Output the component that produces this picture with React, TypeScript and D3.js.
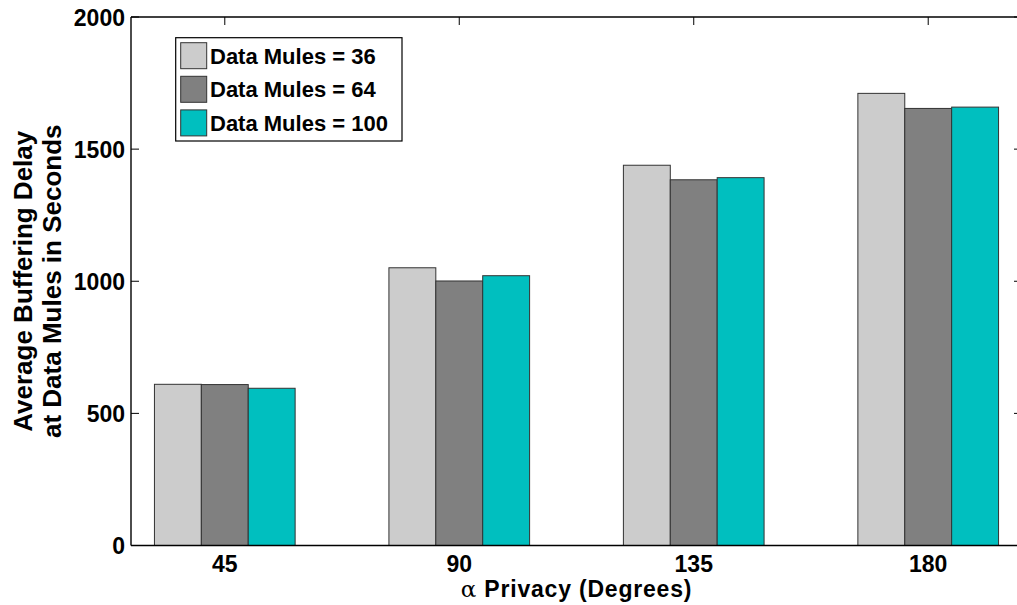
import React from "react";
import * as d3 from "d3";

const categories = ["45", "90", "135", "180"];
const seriesNames = ["Data Mules = 36", "Data Mules = 64", "Data Mules = 100"];
const mules36 = [610, 1051, 1439, 1711];
const mules64 = [609, 1001, 1384, 1654];
const mules100 = [595, 1021, 1392, 1659];
const yTicks = [0, 500, 1000, 1500, 2000];
const colors = ["#cccccc", "#808080", "#00bfbf"];

const W = 1017;
const H = 605;
const M = { left: 131, right: 1022, top: 17, bottom: 545.5 };
const FONT = "'Liberation Sans', Arial, Helvetica, sans-serif";

export default function App() {
  const series = [mules36, mules64, mules100];
  const x = d3.scaleLinear().domain([0.6, 4.4]).range([M.left, M.right]);
  const y = d3.scaleLinear().domain([0, 2000]).range([M.bottom, M.top]);
  const groupW = (x(2) - x(1)) * 0.6;
  const inner = d3
    .scaleBand<number>()
    .domain([0, 1, 2])
    .range([-groupW / 2, groupW / 2])
    .padding(0);

  const tickLen = 8;

  return (
    <svg
      width={W}
      height={H}
      style={{ position: "absolute", left: 0, top: 0, background: "#fff" }}
      fontFamily={FONT}
      fontWeight="bold"
    >
      <rect x={0} y={0} width={W} height={H} fill="#fff" />
      {categories.map((c, i) => (
        <line key={"bt" + c} x1={x(i + 1)} x2={x(i + 1)} y1={M.bottom} y2={M.bottom - tickLen} stroke="#000" strokeWidth={1} />
      ))}
      {series.map((vals, s) =>
        vals.map((v, i) => (
          <rect
            key={`b${s}-${i}`}
            x={x(i + 1) + (inner(s) as number)}
            y={y(v)}
            width={inner.bandwidth()}
            height={y(0) - y(v)}
            fill={colors[s]}
            stroke="#333"
            strokeWidth={1}
          />
        ))
      )}
      <line x1={M.left} x2={M.right} y1={M.bottom} y2={M.bottom} stroke="#000" strokeWidth={1.4} />
      <line x1={M.left} x2={M.right} y1={M.top} y2={M.top} stroke="#000" strokeWidth={1.4} />
      <line x1={M.left} x2={M.left} y1={M.top} y2={M.bottom} stroke="#000" strokeWidth={1.4} />
      <line x1={M.right} x2={M.right} y1={M.top} y2={M.bottom} stroke="#000" strokeWidth={1.4} />
      {categories.map((c, i) => (
        <line key={"tt" + c} x1={x(i + 1)} x2={x(i + 1)} y1={M.top} y2={M.top + tickLen} stroke="#000" strokeWidth={1} />
      ))}
      {yTicks.map((t) => (
        <g key={"yt" + t}>
          <line x1={M.left} x2={M.left + tickLen} y1={y(t)} y2={y(t)} stroke="#000" strokeWidth={1} />
          <line x1={M.right} x2={M.right - tickLen} y1={y(t)} y2={y(t)} stroke="#000" strokeWidth={1} />
          <text x={M.left - 6} y={y(t) + 8.5} textAnchor="end" fontSize={23}>
            {t}
          </text>
        </g>
      ))}
      {categories.map((c, i) => (
        <text key={"xl" + c} x={x(i + 1)} y={572} textAnchor="middle" fontSize={23}>
          {c}
        </text>
      ))}
      <text x={(M.left + M.right) / 2} y={597} textAnchor="middle" fontSize={23} letterSpacing={0.8}>
        <tspan fontFamily="'DejaVu Serif', 'Liberation Serif', serif" fontWeight="normal">α</tspan>
        <tspan> Privacy (Degrees)</tspan>
      </text>
      <g transform={`translate(0, ${(M.top + M.bottom) / 2}) rotate(-90)`}>
        <text x={0} y={32} textAnchor="middle" fontSize={26}>
          Average Buffering Delay
        </text>
        <text x={0} y={61} textAnchor="middle" fontSize={26}>
          at Data Mules in Seconds
        </text>
      </g>
      <rect x={175.7} y={37.7} width={226.3} height={103.3} fill="#fff" stroke="#000" strokeWidth={1.2} />
      {seriesNames.map((n, s) => (
        <g key={"lg" + s}>
          <rect x={180.7} y={42.7 + s * 33.6} width={26} height={26} fill={colors[s]} stroke="#333" strokeWidth={1} />
          <text x={210} y={42.7 + s * 33.6 + 21} fontSize={22}>
            {n}
          </text>
        </g>
      ))}
    </svg>
  );
}
